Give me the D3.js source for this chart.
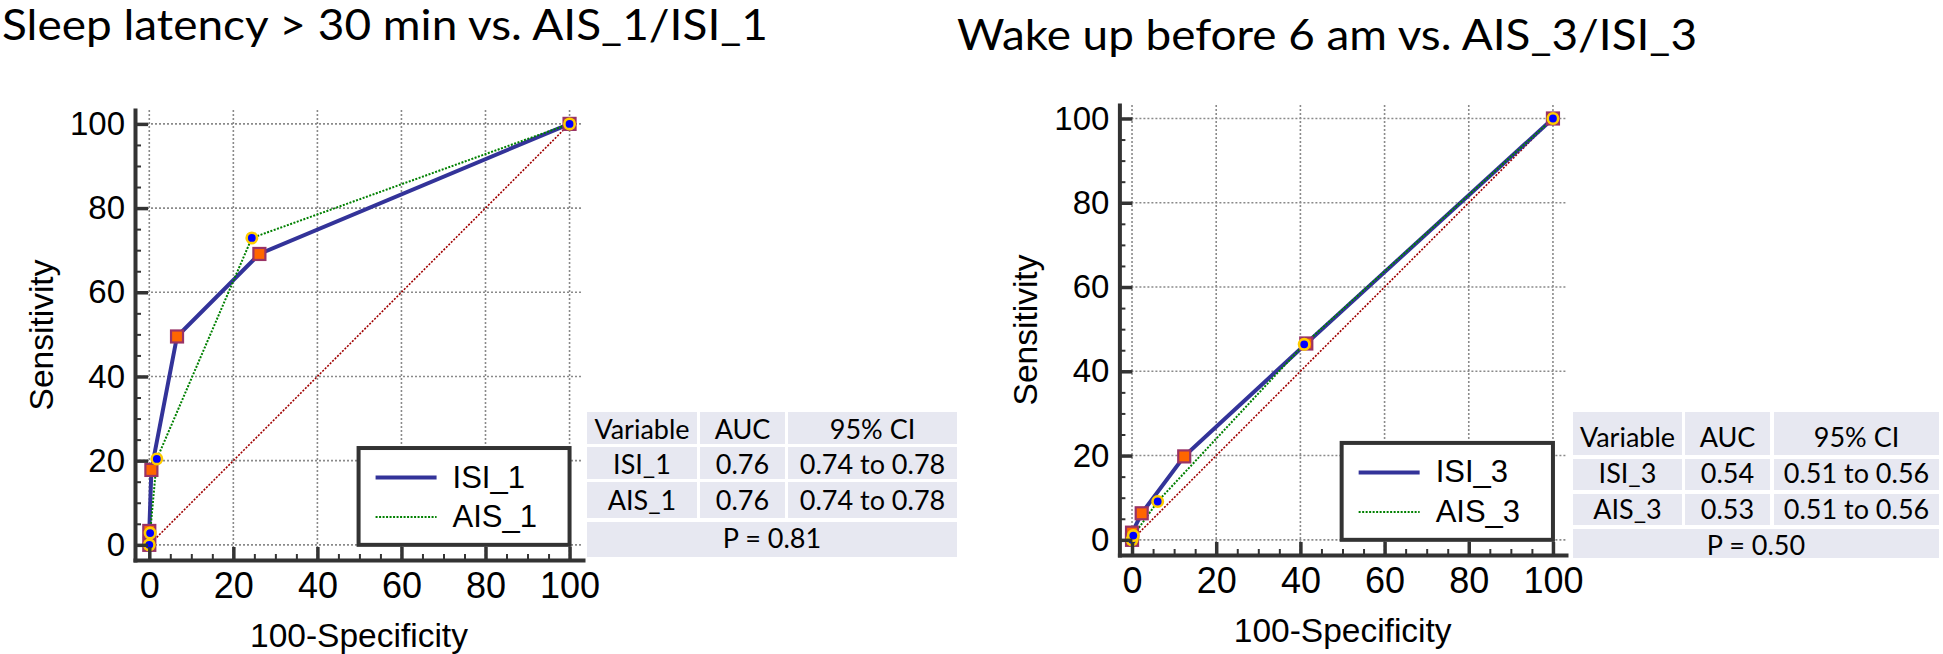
<!DOCTYPE html>
<html>
<head>
<meta charset="utf-8">
<title>ROC curves</title>
<style>
  body { margin: 0; background: #fff; }
  .tick text { font-family: "Liberation Sans", Arial, sans-serif; fill: #000; }
  .axis--x .tick text { font-size: 36px; }
  .axis--y .tick text { font-size: 33px; }
  .axis path, .axis line { stroke: #333; }
  .axis path { stroke-width: 4; stroke-linecap: square; }
  .axis--major line { stroke-width: 3.5; }
  .axis--minor line { stroke-width: 2; }
  .grid line { stroke: #8a8a8a; stroke-width: 1.6; stroke-dasharray: 2,2; }
  .label { font-family: "Liberation Sans", Arial, sans-serif; font-size: 33.5px; fill: #000; }
  .title { font-family: Lato, "Open Sans", sans-serif; font-size: 42px; fill: #000; }
  .legend text { font-family: "Liberation Sans", Arial, sans-serif; font-size: 31px; fill: #000; }
  .tbl text { font-family: Lato, "Open Sans", sans-serif; font-size: 27px; fill: #000; }
</style>
</head>
<body>
<svg width="1943" height="654"></svg>
<script src="https://d3js.org/d3.v7.min.js"></script>
<script>
// ROC points (100-Specificity, Sensitivity)
var isi1X = [0, 0, 0.5, 6.6, 26.2, 100];
var isi1Y = [0, 3.3, 17.8, 49.5, 69.1, 100];
var ais1X = [0, 0.2, 1.8, 24.4, 100];
var ais1Y = [0, 2.8, 20.4, 72.9, 100];

var isi3X = [0, 0, 2.3, 12.4, 41.4, 100];
var isi3Y = [0, 1.7, 6.3, 19.8, 46.6, 100];
var ais3X = [0, 0.3, 6.1, 40.9, 100];
var ais3Y = [0, 1, 9.1, 46.4, 100];

var majorTicks = [0, 20, 40, 60, 80, 100];
var minorTicks = d3.range(0, 101, 5);

var titles = ["Sleep latency > 30 min vs. AIS_1/ISI_1", "Wake up before 6 am vs. AIS_3/ISI_3"];
var legend1 = ["ISI_1", "AIS_1"];
var legend3 = ["ISI_3", "AIS_3"];

var tableHeader = ["Variable", "AUC", "95% CI"];
var table1Rows = [["ISI_1", "0.76", "0.74 to 0.78"], ["AIS_1", "0.76", "0.74 to 0.78"]];
var table1P = "P = 0.81";
var table3Rows = [["ISI_3", "0.54", "0.51 to 0.56"], ["AIS_3", "0.53", "0.51 to 0.56"]];
var table3P = "P = 0.50";

var svg = d3.select("svg");

function zip(xs, ys) { return xs.map(function(v, i) { return [v, ys[i]]; }); }

function drawPanel(o) {
  var x = d3.scaleLinear().domain(o.xDom).range([o.left, o.right]);
  var y = d3.scaleLinear().domain(o.yDom).range([o.bottom, o.top]);
  var g = svg.append("g");

  // grid
  var grid = g.append("g").attr("class", "grid");
  grid.selectAll(".gx").data(majorTicks).enter().append("line")
    .attr("x1", function(d) { return x(d); }).attr("x2", function(d) { return x(d); })
    .attr("y1", o.top).attr("y2", o.bottom);
  grid.selectAll(".gy").data(majorTicks).enter().append("line")
    .attr("x1", o.left).attr("x2", o.right)
    .attr("y1", function(d) { return y(d); }).attr("y2", function(d) { return y(d); });

  // reference diagonal
  g.append("line")
    .attr("x1", x(0)).attr("y1", y(0)).attr("x2", x(100)).attr("y2", y(100))
    .attr("stroke", "#a00000").attr("stroke-width", 1.6).attr("stroke-dasharray", "2,1.5");

  var line = d3.line().x(function(d) { return x(d[0]); }).y(function(d) { return y(d[1]); });
  var isi = zip(o.isiX, o.isiY), ais = zip(o.aisX, o.aisY);

  g.append("path").datum(isi).attr("d", line)
    .attr("fill", "none").attr("stroke", "#333399").attr("stroke-width", 4);
  g.append("path").datum(ais).attr("d", line)
    .attr("fill", "none").attr("stroke", "#008000").attr("stroke-width", 2).attr("stroke-dasharray", "2,1.5");

  g.selectAll(".sq").data(isi).enter().append("rect")
    .attr("x", function(d) { return x(d[0]) - 6; })
    .attr("y", function(d) { return y(d[1]) - 6; })
    .attr("width", 12).attr("height", 12)
    .attr("fill", "#ff6600").attr("stroke", "#993366").attr("stroke-width", 2.2);
  g.selectAll(".ci").data(ais).enter().append("circle")
    .attr("cx", function(d) { return x(d[0]); })
    .attr("cy", function(d) { return y(d[1]); })
    .attr("r", 5.2)
    .attr("fill", "#0000ff").attr("stroke", "#ffcc00").attr("stroke-width", 2.6);

  // legend
  var lx0 = x(49.8), lx1 = x(100), ly0 = y(23), ly1 = y(0);
  var lg = g.append("g").attr("class", "legend");
  lg.append("rect").attr("x", lx0).attr("y", ly0).attr("width", lx1 - lx0).attr("height", ly1 - ly0)
    .attr("fill", "#fff").attr("stroke", "#333").attr("stroke-width", 4);
  var rowY = [ly0 + 29.5, ly0 + 69];
  lg.append("line").attr("x1", lx0 + 17).attr("x2", lx0 + 78).attr("y1", rowY[0]).attr("y2", rowY[0])
    .attr("stroke", "#333399").attr("stroke-width", 4);
  lg.append("line").attr("x1", lx0 + 17).attr("x2", lx0 + 78).attr("y1", rowY[1]).attr("y2", rowY[1])
    .attr("stroke", "#008000").attr("stroke-width", 2).attr("stroke-dasharray", "2,1.5");
  lg.selectAll("text").data(o.legend).enter().append("text")
    .attr("x", lx0 + 94).attr("y", function(d, i) { return rowY[i] + 10; })
    .text(function(d) { return d; });

  // axes: minor then major
  g.append("g").attr("class", "axis axis--minor")
    .attr("transform", "translate(0," + o.bottom + ")")
    .call(d3.axisBottom(x).tickValues(minorTicks).tickSize(-6).tickSizeOuter(0).tickFormat(""))
    .select(".domain").remove();
  g.append("g").attr("class", "axis axis--minor")
    .attr("transform", "translate(" + o.left + ",0)")
    .call(d3.axisLeft(y).tickValues(minorTicks).tickSize(-6).tickSizeOuter(0).tickFormat(""))
    .select(".domain").remove();
  g.append("g").attr("class", "axis axis--major axis--x")
    .attr("transform", "translate(0," + o.bottom + ")")
    .call(d3.axisBottom(x).tickValues(majorTicks).tickSize(-13).tickSizeOuter(0).tickPadding(12));
  g.append("g").attr("class", "axis axis--major axis--y")
    .attr("transform", "translate(" + o.left + ",0)")
    .call(d3.axisLeft(y).tickValues(majorTicks).tickSize(-13).tickSizeOuter(0).tickPadding(10));

  // axis titles
  g.append("text").attr("class", "label")
    .attr("x", (o.left + o.right) / 2).attr("y", o.bottom + 87)
    .attr("text-anchor", "middle").text("100-Specificity");
  g.append("text").attr("class", "label")
    .attr("transform", "translate(" + (o.left - 82) + "," + ((o.top + o.bottom) / 2) + ") rotate(-90)")
    .attr("text-anchor", "middle").text("Sensitivity");

  // title
  svg.append("text").attr("class", "title")
    .attr("x", o.titleX).attr("y", o.titleY)
    .attr("textLength", o.titleW).attr("lengthAdjust", "spacingAndGlyphs")
    .text(o.title);

  // AUC table
  var tg = svg.append("g").attr("class", "tbl");
  var rows = [tableHeader].concat(o.rows);
  rows.forEach(function(r, i) {
    r.forEach(function(c, j) {
      tg.append("rect").attr("x", o.colX[j]).attr("y", o.rowY[i])
        .attr("width", o.colW[j]).attr("height", o.rowH[i]).attr("fill", "#e7e8f1");
      tg.append("text").attr("x", o.colX[j] + o.colW[j] / 2).attr("y", o.baseY[i])
        .attr("text-anchor", "middle").text(c);
    });
  });
  var wAll = o.colX[2] + o.colW[2] - o.colX[0];
  tg.append("rect").attr("x", o.colX[0]).attr("y", o.rowY[3])
    .attr("width", wAll).attr("height", o.rowH[3]).attr("fill", "#e7e8f1");
  tg.append("text").attr("x", o.colX[0] + wAll / 2).attr("y", o.baseY[3])
    .attr("text-anchor", "middle").text(o.p);
}

drawPanel({
  left: 135, right: 583, top: 110, bottom: 560,
  xDom: [-3.4, 103.2], yDom: [-3.6, 103.3],
  isiX: isi1X, isiY: isi1Y, aisX: ais1X, aisY: ais1Y,
  legend: legend1,
  title: titles[0], titleX: 2, titleY: 40, titleW: 766,
  rows: table1Rows, p: table1P,
  colX: [587, 700, 788], colW: [110, 85, 169],
  rowY: [412, 447, 482, 522], rowH: [32, 32, 36, 35],
  baseY: [439, 474, 510, 548]
});

drawPanel({
  left: 1119.4, right: 1566, top: 105, bottom: 555,
  xDom: [-3.0, 103.1], yDom: [-3.6, 103.2],
  isiX: isi3X, isiY: isi3Y, aisX: ais3X, aisY: ais3Y,
  legend: legend3,
  title: titles[1], titleX: 957, titleY: 50, titleW: 740,
  rows: table3Rows, p: table3P,
  colX: [1573, 1685, 1774], colW: [109, 85, 165],
  rowY: [412, 459, 494, 529], rowH: [43, 31, 31, 29],
  baseY: [447, 483, 519, 555]
});
</script>
</body>
</html>
